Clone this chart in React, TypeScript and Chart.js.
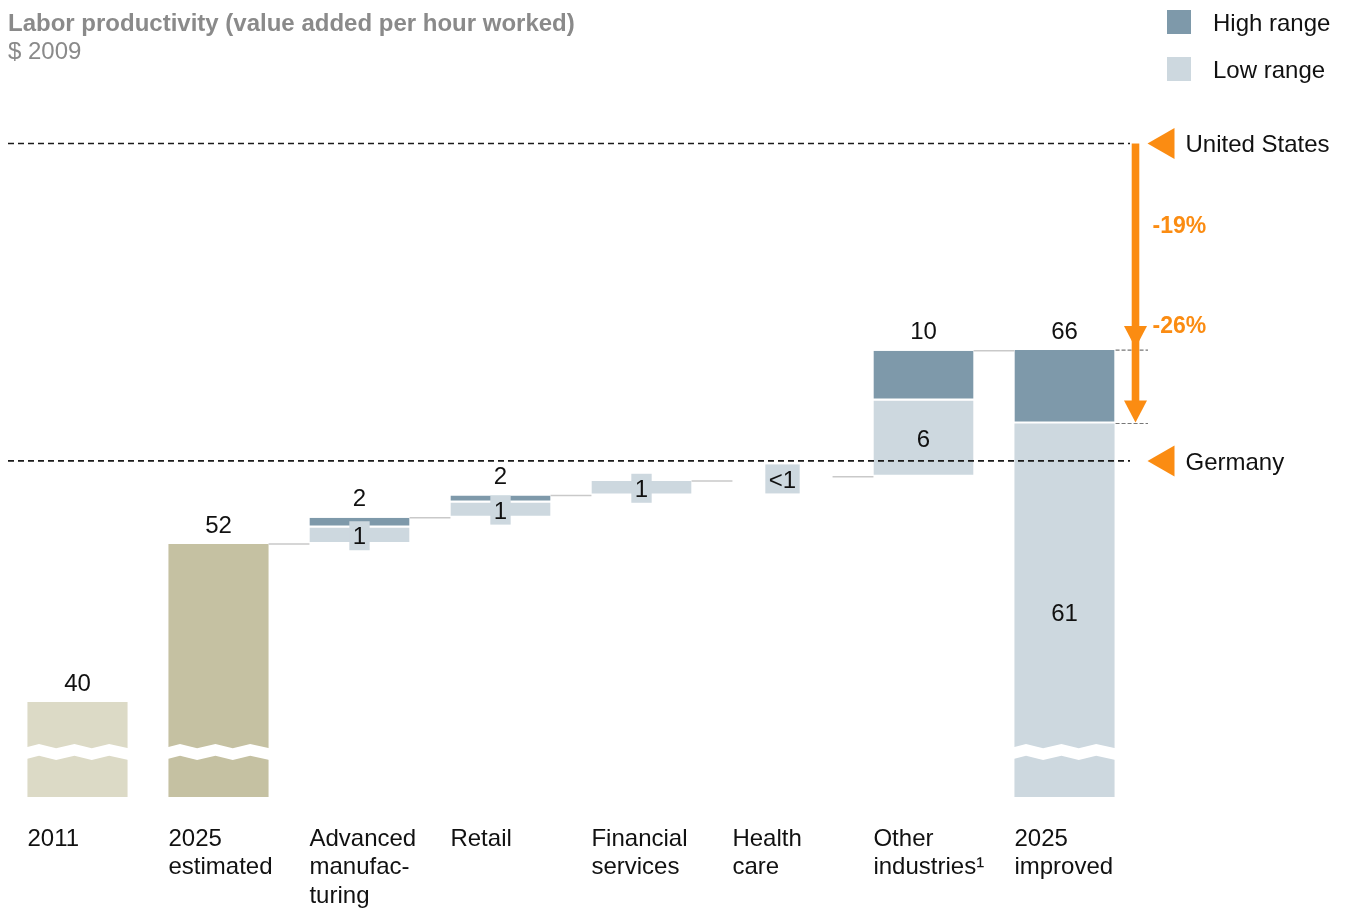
import React, { useEffect, useRef } from "react";
import { Chart, registerables } from "chart.js";
Chart.register(...registerables);

// ---- data ----
const categoryLines: string[][] = [
  ["2011"],
  ["2025", "estimated"],
  ["Advanced", "manufac-", "turing"],
  ["Retail"],
  ["Financial", "services"],
  ["Health", "care"],
  ["Other", "industries¹"],
  ["2025", "improved"],
];
const startValues = [40.6, 52]; // 2011, 2025 estimated
const startLabels = ["40", "52"];
const industryLow = [1.2, 1.1, 1.05, 0.3, 5.5];
const industryHigh = [1.9, 1.6, 1.05, 0.3, 9.1];
const industryLowLabels = ["1", "1", "1", "<1", "6"];
const industryHighLabels = ["2", "2", "", "", "10"];
const improvedLow = 60.7;
const improvedHigh = 66;
const improvedLowLabel = "61";
const improvedHighLabel = "66";
const usLevel = 80.9;
const germanyLevel = 58;
const gapLabels = ["-19%", "-26%"];
const legendLabels = ["High range", "Low range"];
const titleText = "Labor productivity (value added per hour worked)";
const subtitleText = "$ 2009";

// ---- styles ----
const Y_MIN = 33.75;
const Y_MAX = 84.04;
const C_2011 = "#dcdac6";
const C_2025 = "#c5c1a2";
const C_HIGH = "#7e99aa";
const C_LOW = "#cdd8df";
const ORANGE = "#fb8c12";
const FONT = "'Liberation Sans', Arial, sans-serif";

export default function App() {
  const ref = useRef<HTMLCanvasElement | null>(null);

  useEffect(() => {
    const canvas = ref.current;
    if (!canvas) return;
    const n = categoryLines.length;
    const totalData: any[] = Array(n).fill(null);
    const lowData: any[] = Array(n).fill(null);
    const highData: any[] = Array(n).fill(null);
    totalData[0] = [Y_MIN, startValues[0]];
    totalData[1] = [Y_MIN, startValues[1]];
    const cumTops: number[] = [];
    let cum = startValues[1];
    cumTops[1] = cum;
    industryLow.forEach((lo, i) => {
      const hi = industryHigh[i];
      lowData[i + 2] = [cum, cum + lo];
      if (hi > lo) highData[i + 2] = [cum + lo, cum + hi];
      cum += hi;
      cumTops[i + 2] = cum;
    });
    lowData[n - 1] = [Y_MIN, improvedLow];
    highData[n - 1] = [improvedLow, improvedHigh];

    const bottomBorder = (ctx: any) =>
      ctx.dataIndex === n - 1 && ctx.datasetIndex === 1
        ? 0
        : { top: 0, right: 0, bottom: 2, left: 0 };
    // very thin segments (under ~0.5) are covered by their label box only
    const lowColor = (ctx: any) => {
      const v = ctx.raw;
      return v && Math.abs(v[1] - v[0]) < 0.5 ? "rgba(0,0,0,0)" : C_LOW;
    };

    const overlay = {
      id: "overlay",
      afterDatasetsDraw(chart: any) {
        const c = chart.ctx as CanvasRenderingContext2D;
        const xs = chart.scales.x;
        const ys = chart.scales.y;
        const ca = chart.chartArea;
        const bw = (xs.width / n) * 0.71;
        const left = (i: number) => xs.getPixelForValue(i) - bw / 2;
        const cx = (i: number) => xs.getPixelForValue(i);
        const py = (v: number) => ys.getPixelForValue(v);
        c.save();

        // break zigzags
        [0, 1, n - 1].forEach((i) => {
          const x0 = left(i) - 1;
          const w = bw + 2;
          const yTop = ca.bottom - 53;
          const fr = [0, 0.123, 0.29, 0.47, 0.64, 0.81, 1.0];
          const off = [3.3, 0, 4.3, 0, 4.3, 0, 4.3];
          const th = 11.7;
          c.beginPath();
          fr.forEach((f, k) => {
            const px = x0 + f * w;
            const pyv = yTop + off[k];
            if (k === 0) c.moveTo(px, pyv);
            else c.lineTo(px, pyv);
          });
          for (let k = fr.length - 1; k >= 0; k--) {
            c.lineTo(x0 + fr[k] * w, yTop + off[k] + th);
          }
          c.closePath();
          c.fillStyle = "#ffffff";
          c.fill();
        });

        // connectors
        c.strokeStyle = "#c9c9c9";
        c.lineWidth = 1.5;
        for (let i = 1; i < n - 1; i++) {
          const y = py(cumTops[i]);
          c.beginPath();
          c.moveTo(left(i) + bw, y);
          c.lineTo(left(i + 1), y);
          c.stroke();
        }

        // value labels
        c.font = `24px ${FONT}`;
        c.textAlign = "center";
        c.textBaseline = "middle";
        c.fillStyle = "#111";
        c.fillText(startLabels[0], cx(0), py(startValues[0]) - 18);
        c.fillText(startLabels[1], cx(1), py(startValues[1]) - 18);
        c.fillText(improvedHighLabel, cx(n - 1), py(improvedHigh) - 18);
        c.fillText(improvedLowLabel, cx(n - 1), (py(improvedLow) + ca.bottom) / 2 + 4);
        industryLow.forEach((lo, i) => {
          const idx = i + 2;
          const seg = lowData[idx];
          const yTop = py(seg[1]);
          const yBot = py(seg[0]);
          const yc = (yTop + yBot) / 2;
          const t = industryLowLabels[i];
          const tw = c.measureText(t).width;
          if (yBot - yTop < 29) {
            c.fillStyle = C_LOW;
            c.fillRect(cx(idx) - tw / 2 - 3.5, yc - 14.5, tw + 7, 29);
          }
          c.fillStyle = "#111";
          c.fillText(t, cx(idx), yc + 2);
          const ht = industryHighLabels[i];
          if (ht) c.fillText(ht, cx(idx), py(cumTops[idx]) - 18);
        });

        // reference lines
        const usY = py(usLevel);
        const deY = py(germanyLevel);
        c.strokeStyle = "#1a1a1a";
        c.lineWidth = 1.6;
        c.setLineDash([6, 4]);
        [usY, deY].forEach((y) => {
          c.beginPath();
          c.moveTo(8, y);
          c.lineTo(ca.right - 5, y);
          c.stroke();
        });
        // short grey dashed markers
        c.strokeStyle = "#777";
        c.lineWidth = 1.2;
        c.setLineDash([4, 2]);
        [improvedHigh, improvedLow].forEach((v) => {
          const y = py(v);
          c.beginPath();
          c.moveTo(left(n - 1) + bw + 1, y);
          c.lineTo(ca.right + 13, y);
          c.stroke();
        });
        c.setLineDash([]);

        // orange arrow
        const ax = ca.right + 0.5;
        const tip1 = py(improvedHigh) - 2;
        const tip2 = py(improvedLow) - 1;
        c.fillStyle = ORANGE;
        c.fillRect(ax - 3.8, usY, 7.6, tip2 - 20 - usY);
        [tip1, tip2].forEach((t) => {
          c.beginPath();
          c.moveTo(ax - 11.5, t - 22);
          c.lineTo(ax + 11.5, t - 22);
          c.lineTo(ax, t);
          c.closePath();
          c.fill();
        });
        c.font = `bold 23px ${FONT}`;
        c.textAlign = "left";
        c.fillText(gapLabels[0], ax + 17, usY + (tip1 - usY) * 0.4 + 1.5);
        c.fillText(gapLabels[1], ax + 17, tip1 - 21.5);

        // country markers
        [
          [usY, "United States"],
          [deY, "Germany"],
        ].forEach(([y, label]: any) => {
          c.fillStyle = ORANGE;
          c.beginPath();
          c.moveTo(ax + 12, y);
          c.lineTo(ax + 39, y - 15.5);
          c.lineTo(ax + 39, y + 15.5);
          c.closePath();
          c.fill();
          c.fillStyle = "#111";
          c.font = `24px ${FONT}`;
          c.fillText(label, ax + 50, y + 2);
        });

        // x labels
        c.font = `24px ${FONT}`;
        c.textAlign = "left";
        c.fillStyle = "#111";
        categoryLines.forEach((lines, i) => {
          lines.forEach((ln, k) => {
            c.fillText(ln, left(i), 839 + k * 28.5);
          });
        });

        // legend
        c.fillStyle = C_HIGH;
        c.fillRect(1167, 10, 24, 24);
        c.fillStyle = C_LOW;
        c.fillRect(1167, 57, 24, 24);
        c.fillStyle = "#111";
        c.fillText(legendLabels[0], 1213, 24);
        c.fillText(legendLabels[1], 1213, 71);

        // title
        c.fillStyle = "#8a8a8a";
        c.font = `bold 24px ${FONT}`;
        c.fillText(titleText, 8, 24.5);
        c.font = `24px ${FONT}`;
        c.fillText(subtitleText, 8, 52.5);
        c.restore();
      },
    };

    const chart = new Chart(canvas, {
      type: "bar",
      data: {
        labels: categoryLines.map((l) => l.join(" ")),
        datasets: [
          {
            data: totalData,
            backgroundColor: [C_2011, C_2025, C_2025, C_2025, C_2025, C_2025, C_2025, C_2025],
            borderWidth: 0,
            grouped: false,
            inflateAmount: 0,
          } as any,
          {
            data: lowData,
            backgroundColor: lowColor,
            borderColor: "#ffffff",
            borderWidth: bottomBorder,
            borderSkipped: false,
            grouped: false,
            inflateAmount: 0,
          } as any,
          {
            data: highData,
            backgroundColor: C_HIGH,
            borderColor: "#ffffff",
            borderWidth: bottomBorder,
            borderSkipped: false,
            grouped: false,
            inflateAmount: 0,
          } as any,
        ],
      },
      options: {
        responsive: false,
        animation: false,
        layout: { padding: { left: 7, right: 212, top: 100, bottom: 112 } },
        datasets: { bar: { categoryPercentage: 1, barPercentage: 0.71 } } as any,
        scales: {
          x: { display: false },
          y: { display: false, min: Y_MIN, max: Y_MAX },
        },
        plugins: { legend: { display: false }, tooltip: { enabled: false } },
      },
      plugins: [overlay],
    });
    return () => chart.destroy();
  }, []);

  return (
    <div style={{ position: "absolute", left: 0, top: 0, width: 1347, height: 909 }}>
      <canvas ref={ref} width={1347} height={909} style={{ display: "block" }} />
    </div>
  );
}
